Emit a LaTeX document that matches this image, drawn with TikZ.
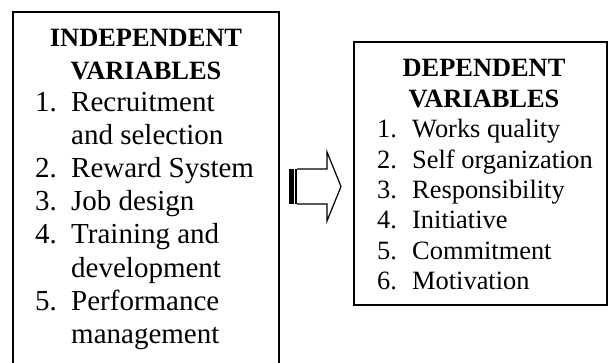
\documentclass[tikz,border=0pt]{standalone}
\usepackage{fontspec}
\setmainfont{Liberation Serif}

\begin{document}
\begin{tikzpicture}[x=1pt, y=-1pt,
  every node/.style={inner sep=0pt, font=\fontsize{26.4}{30}\selectfont},
  caja/.style={line width=1.5pt},
  num/.style={anchor=base west},
  item/.style={anchor=base west},
  grande/.style={font=\fontsize{29}{33}\selectfont},
  titulo/.style={anchor=base, font=\fontsize{26.4}{30}\selectfont\bfseries}]
  \useasboundingbox (0,0) rectangle (610,363);
  \clip (0,0) rectangle (610,363);

  % Caja izquierda
  \draw[caja] (13,12) rectangle (279,380);
  \node[titulo] (indep) at (146,47) {INDEPENDENT};
  \node[titulo] (indepvar) at (146,80) {VARIABLES};

  % Lista izquierda
  \node[num, grande] (n1) at (35,112) {1.};
  \node[item, grande] (i1) at (71,112) {Recruitment};
  \node[item, grande] (i1b) at (71,145) {and selection};
  \node[num, grande] (n2) at (35,178) {2.};
  \node[item, grande] (i2) at (71,178) {Reward System};
  \node[num, grande] (n3) at (35,211) {3.};
  \node[item, grande] (i3) at (71,211) {Job design};
  \node[num, grande] (n4) at (35,244) {4.};
  \node[item, grande] (i4) at (71,244) {Training and};
  \node[item, grande] (i4b) at (71,277) {development};
  \node[num, grande] (n5) at (35,310) {5.};
  \node[item, grande] (i5) at (71,310) {Performance};
  \node[item, grande] (i5b) at (71,343) {management};

  % Flecha
  \fill (289,169) rectangle (293.5,204);
  \fill (295,169) rectangle (297,204);
  \draw[line width=1.2pt, line join=miter] (297,169) -- (327,169) -- (327,152) -- (341,186.5)
    -- (327,221) -- (327,204) -- (297,204);

  % Caja derecha
  \draw[caja] (354,42) rectangle (607,305);
  \node[titulo] (dep) at (484,77) {DEPENDENT};
  \node[titulo] (depvar) at (484,107.4) {VARIABLES};

  % Lista derecha
  \node[num] (m1) at (377,137.8) {1.};
  \node[item] (d1) at (412,137.8) {Works quality};
  \node[num] (m2) at (377,168.2) {2.};
  \node[item] (d2) at (412,168.2) {Self organization};
  \node[num] (m3) at (377,198.6) {3.};
  \node[item] (d3) at (412,198.6) {Responsibility};
  \node[num] (m4) at (377,229) {4.};
  \node[item] (d4) at (412,229) {Initiative};
  \node[num] (m5) at (377,259.4) {5.};
  \node[item] (d5) at (412,259.4) {Commitment};
  \node[num] (m6) at (377,289.8) {6.};
  \node[item] (d6) at (412,289.8) {Motivation};

\end{tikzpicture}
\end{document}
